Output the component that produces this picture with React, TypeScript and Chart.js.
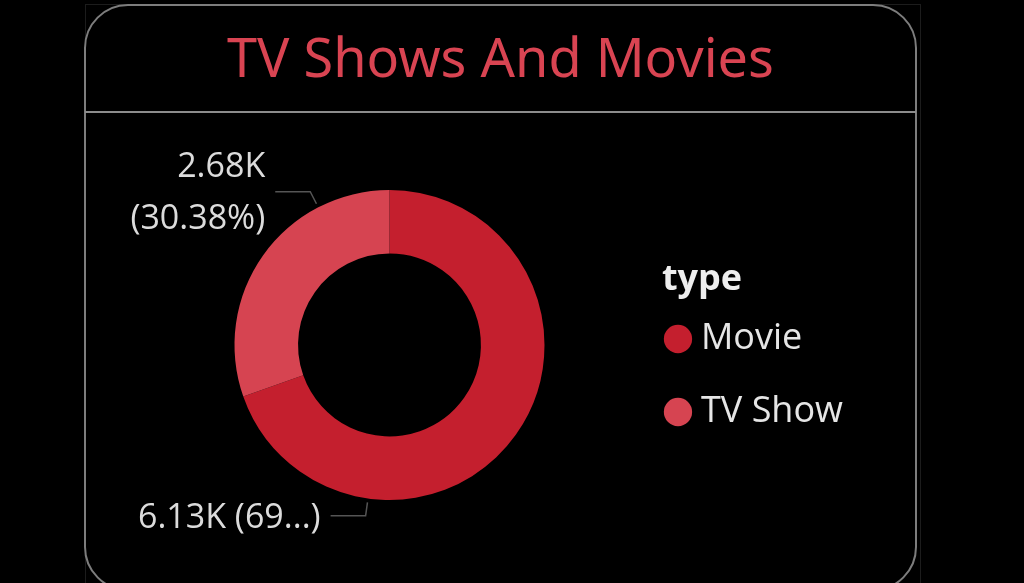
import { useEffect, useRef } from "react";
import { Chart, registerables } from "chart.js";

Chart.register(...registerables);

const chartTitle = "TV Shows And Movies";
const legendTitle = "type";
const categories = ["Movie", "TV Show"];
const counts = [6131, 2676];
const sliceColors = ["#c41f2e", "#d64451"];
const dataLabelLines = [["6.13K (69...)"], ["2.68K", "(30.38%)"]];

const leaderLabels = {
  id: "leaderLabels",
  afterDatasetsDraw(chart: any) {
    const ctx = chart.ctx;
    const meta = chart.getDatasetMeta(0);
    meta.data.forEach((arc: any, i: number) => {
      const { x, y, startAngle, endAngle, outerRadius } = arc.getProps(
        ["x", "y", "startAngle", "endAngle", "outerRadius"],
        true
      );
      const a = startAngle + 0.75 * (endAngle - startAngle);
      const cos = Math.cos(a);
      const sin = Math.sin(a);
      const p0 = { x: x + (outerRadius + 4) * cos, y: y + (outerRadius + 4) * sin };
      const p1 = { x: x + (outerRadius + 17.5) * cos, y: y + (outerRadius + 17.5) * sin };
      const dir = cos < 0 ? -1 : 1;
      const p2 = { x: p1.x + dir * 35, y: p1.y };
      ctx.save();
      ctx.strokeStyle = "#555555";
      ctx.lineWidth = 1.5;
      ctx.beginPath();
      ctx.moveTo(p0.x, p0.y);
      ctx.lineTo(p1.x, p1.y);
      ctx.lineTo(p2.x, p2.y);
      ctx.stroke();
      const lines = dataLabelLines[i];
      ctx.font = "34px 'Open Sans'";
      ctx.fillStyle = "#dcdcdc";
      ctx.textAlign = dir < 0 ? "right" : "left";
      ctx.textBaseline = "middle";
      const lh = 52;
      const tx = p2.x + dir * 10;
      lines.forEach((ln: string, k: number) =>
        ctx.fillText(ln, tx, p1.y + 2 + (k - (lines.length - 1) / 2) * lh)
      );
      ctx.restore();
    });
  },
};

export default function App() {
  const ref = useRef<HTMLCanvasElement>(null);
  useEffect(() => {
    document.body.style.margin = "0";
    document.body.style.background = "#000";
    const chart = new Chart(ref.current as HTMLCanvasElement, {
      type: "doughnut",
      data: {
        labels: categories,
        datasets: [
          {
            data: counts,
            backgroundColor: sliceColors,
            borderWidth: 0,
            hoverOffset: 0,
          },
        ],
      },
      options: {
        responsive: false,
        maintainAspectRatio: false,
        animation: false,
        cutout: "59%",
        layout: { padding: { left: 117, right: 171, top: 190, bottom: 83 } },
        plugins: {
          tooltip: { enabled: false },
          title: { display: false },
          legend: {
            position: "right",
            fullSize: false,
            align: "start",
            title: {
              display: true,
              text: legendTitle,
              color: "#eeeeee",
              position: "start",
              font: { family: "'Open Sans'", size: 36, weight: "bold", lineHeight: 1.2 },
              padding: { top: 72, bottom: 4.8 },
            },
            labels: {
              color: "#e6e6e6",
              font: { family: "'Open Sans'", size: 36, lineHeight: 62 / 36 },
              usePointStyle: true,
              pointStyle: "circle",
              boxWidth: 10,
              boxHeight: 20,
              padding: 11,
              generateLabels(c: any) {
                const base = (Chart as any).overrides.doughnut.plugins.legend.labels.generateLabels(c);
                return base.map((l: any) => ({ ...l, text: [l.text], lineWidth: 0 }));
              },
            },
          },
        },
      } as any,
      plugins: [leaderLabels],
    });
    return () => chart.destroy();
  }, []);

  return (
    <div style={{ position: "relative", width: 1024, height: 583, background: "#000", overflow: "hidden" }}>
      <div style={{ position: "absolute", left: 85, top: 4, width: 834, height: 700, border: "1px solid #1c1c1c" }} />
      <div
        style={{
          position: "absolute",
          left: 84,
          top: 4,
          width: 833,
          height: 587,
          border: "2px solid #7d7d7d",
          borderRadius: 44,
          boxSizing: "border-box",
        }}
      />
      <div style={{ position: "absolute", left: 85, top: 111, width: 831, height: 2, background: "#8c8c8c" }} />
      <div
        style={{
          position: "absolute",
          left: 85,
          width: 831,
          top: 29,
          textAlign: "center",
          fontFamily: "'Noto Sans'",
          fontSize: 54,
          lineHeight: "54px",
          color: "#d94452",
          whiteSpace: "nowrap",
        }}
      >
        {chartTitle}
      </div>
      <canvas
        ref={ref}
        width={1024}
        height={583}
        style={{ position: "absolute", left: 0, top: 0, width: 1024, height: 583 }}
      />
    </div>
  );
}
